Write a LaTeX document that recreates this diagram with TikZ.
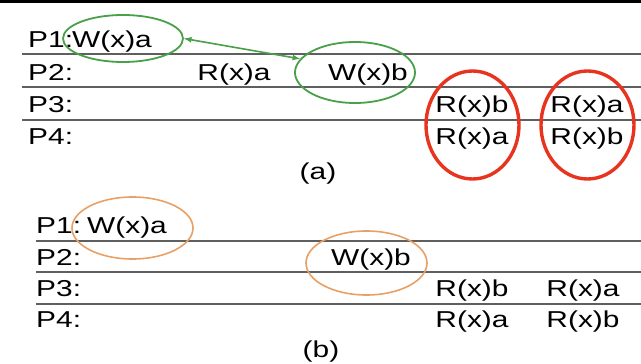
\documentclass[tikz,border=0pt]{standalone}
\usepackage{fontspec}
\setmainfont{Liberation Sans}[FakeStretch=1.3]
\usepackage{tikz}
\usetikzlibrary{shapes.geometric}

\definecolor{ringgreen}{RGB}{72,160,72}
\definecolor{ringred}{RGB}{232,52,30}
\definecolor{ringorange}{RGB}{232,160,100}
\definecolor{sepgray}{RGB}{95,95,95}

\begin{document}
\begin{tikzpicture}[x=1pt, y=-1pt,
    every node/.append style={font=\fontsize{23}{27}\selectfont, anchor=base, inner sep=0pt},
    sepline/.style={draw=sepgray, line width=1.4pt},
    ring/.style={ellipse, draw, inner sep=0pt, anchor=center}]
            \useasboundingbox (0,0) rectangle (641,364);
            \fill[black] (0,0) rectangle (641,2.5);

            % (a)
            \draw[sepline] (22,54) -- (641,54);
            \draw[sepline] (22,87) -- (641,87);
            \draw[sepline] (22,120) -- (641,120);
            \node[anchor=base west] (a1) at (28,47) {P1:};
            \node[anchor=base west] (a2) at (28,80) {P2:};
            \node[anchor=base west] (a3) at (28,112) {P3:};
            \node[anchor=base west] (a4) at (28,144) {P4:};
            \node (awxa) at (112,47) {W(x)a};
            \node (arxa) at (234,80) {R(x)a};
            \node (awxb) at (368,80) {W(x)b};
            \node (arxb1) at (472,112) {R(x)b};
            \node (arxa1) at (472,144) {R(x)a};
            \node (arxa2) at (587,112) {R(x)a};
            \node (arxb2) at (587,144) {R(x)b};
            \node (alabel) at (318,179) {(a)};
            \node[ring, draw=ringgreen, line width=1.8pt, minimum width=120pt, minimum height=47pt] (wring1) at (123,38.5) {};
            \node[ring, draw=ringgreen, line width=1.8pt, minimum width=120pt, minimum height=61pt] (wring2) at (355,72.5) {};
            \draw[ringgreen, line width=1.6pt, <->, >=latex] (wring1.east) -- (wring2.166);
            \node[ring, draw=ringred, line width=3.4pt, minimum width=93pt, minimum height=108pt] (rring1) at (472.5,125) {};
            \node[ring, draw=ringred, line width=3.4pt, minimum width=93pt, minimum height=108pt] (rring2) at (587.5,125) {};

            % (b)
            \draw[sepline] (36,241) -- (641,241);
            \draw[sepline] (36,272) -- (641,272);
            \draw[sepline] (36,304) -- (641,304);
            \node[anchor=base west] (b1) at (36,233) {P1:};
            \node[anchor=base west] (b2) at (36,265) {P2:};
            \node[anchor=base west] (b3) at (36,296) {P3:};
            \node[anchor=base west] (b4) at (36,327) {P4:};
            \node (bwxa) at (127,233) {W(x)a};
            \node (bwxb) at (371,265) {W(x)b};
            \node (brxb1) at (472,296) {R(x)b};
            \node (brxa1) at (472,327) {R(x)a};
            \node (brxa2) at (583,296) {R(x)a};
            \node (brxb2) at (583,327) {R(x)b};
            \node (blabel) at (321,357) {(b)};
            \node[ring, draw=ringorange, line width=1.6pt, minimum width=121pt, minimum height=62pt] (oring1) at (132.5,228) {};
            \node[ring, draw=ringorange, line width=1.6pt, minimum width=121pt, minimum height=64pt] (oring2) at (366.5,263) {};
        \end{tikzpicture}
\end{document}
